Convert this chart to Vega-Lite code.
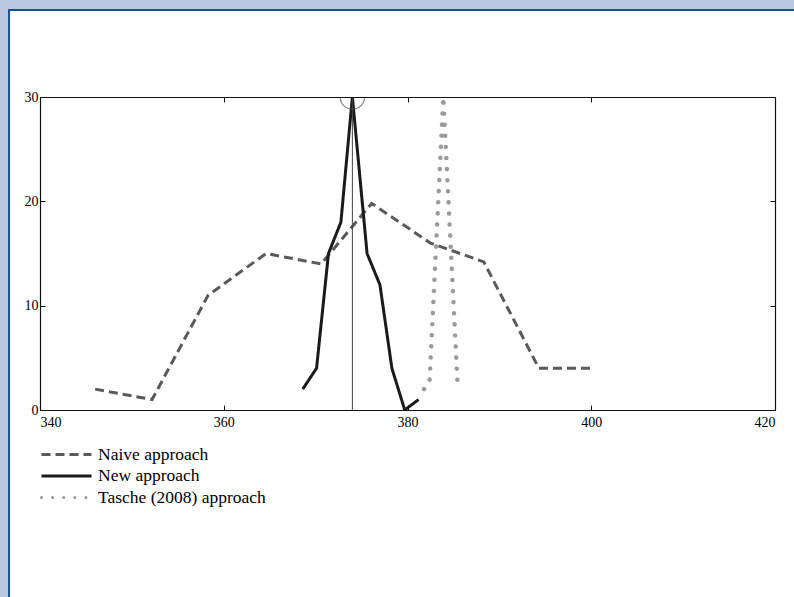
{
  "$schema": "https://vega.github.io/schema/vega-lite/v6.json",
  "width": 735,
  "height": 313,
  "autosize": {"type": "none"},
  "padding": {"left": 40, "top": 97, "right": 19, "bottom": 187},
  "background": "#FFFFFF",
  "config": {
    "view": {"stroke": null},
    "font": "Liberation Serif",
    "axis": {"grid": false, "domain": true, "domainColor": "#111111", "domainWidth": 1.2, "tickColor": "#111111", "tickSize": -5, "labelColor": "#000000", "labelFont": "Liberation Serif", "labelFontSize": 14, "title": null}
  },
  "datasets": {
    "series": [
      {"series": "Naive approach", "x": 346.0, "y": 2.0},
      {"series": "Naive approach", "x": 352.2, "y": 1.0},
      {"series": "Naive approach", "x": 358.3, "y": 11.0},
      {"series": "Naive approach", "x": 364.6, "y": 15.0},
      {"series": "Naive approach", "x": 370.6, "y": 14.0},
      {"series": "Naive approach", "x": 376.1, "y": 19.8},
      {"series": "Naive approach", "x": 382.5, "y": 16.0},
      {"series": "Naive approach", "x": 388.3, "y": 14.2},
      {"series": "Naive approach", "x": 394.3, "y": 4.0},
      {"series": "Naive approach", "x": 400.4, "y": 4.0},
      {"series": "New approach", "x": 368.6, "y": 2.0},
      {"series": "New approach", "x": 370.1, "y": 4.0},
      {"series": "New approach", "x": 371.4, "y": 15.0},
      {"series": "New approach", "x": 372.75, "y": 18.0},
      {"series": "New approach", "x": 374.0, "y": 30.0},
      {"series": "New approach", "x": 375.6, "y": 15.0},
      {"series": "New approach", "x": 377.0, "y": 12.0},
      {"series": "New approach", "x": 378.3, "y": 4.0},
      {"series": "New approach", "x": 379.7, "y": 0.0},
      {"series": "New approach", "x": 381.2, "y": 1.0},
      {"series": "Tasche (2008) approach", "x": 381.8, "y": 2.0},
      {"series": "Tasche (2008) approach", "x": 382.4, "y": 2.8},
      {"series": "Tasche (2008) approach", "x": 383.9, "y": 30.0},
      {"series": "Tasche (2008) approach", "x": 385.45, "y": 2.4}
    ],
    "marker": [{"x": 374, "y": 30}]
  },
  "resolve": {"axis": {"x": "independent", "y": "independent"}},
  "layer": [
    {
      "data": {"name": "marker"},
      "mark": {"type": "rect", "fill": "#B9C8E0", "strokeWidth": 0, "clip": false},
      "encoding": {
        "x": {"datum": 335.0, "type": "quantitative", "scale": {"domain": [340, 420], "nice": false, "zero": false}, "axis": null},
        "x2": {"datum": 432},
        "y": {"datum": 38.34, "type": "quantitative", "scale": {"domain": [0, 30], "nice": false, "zero": false}, "axis": null},
        "y2": {"datum": 41}
      }
    },
    {
      "data": {"name": "marker"},
      "mark": {"type": "rect", "fill": "#B9C8E0", "strokeWidth": 0, "clip": false},
      "encoding": {
        "x": {"datum": 335.0, "type": "quantitative", "scale": {"domain": [340, 420], "nice": false, "zero": false}, "axis": null},
        "x2": {"datum": 336.63},
        "y": {"datum": 41, "type": "quantitative", "scale": {"domain": [0, 30], "nice": false, "zero": false}, "axis": null},
        "y2": {"datum": -25}
      }
    },
    {
      "data": {"name": "marker"},
      "mark": {"type": "rect", "fill": null, "fillOpacity": 0, "stroke": "#1D4F91", "strokeWidth": 2, "clip": false},
      "encoding": {
        "x": {"datum": 336.63, "type": "quantitative", "scale": {"domain": [340, 420], "nice": false, "zero": false}, "axis": null},
        "x2": {"datum": 432},
        "y": {"datum": 38.34, "type": "quantitative", "scale": {"domain": [0, 30], "nice": false, "zero": false}, "axis": null},
        "y2": {"datum": -25}
      }
    },
    {
      "data": {"name": "series"},
      "transform": [{"filter": "datum.series !== 'Tasche (2008) approach'"}],
      "mark": {"type": "line", "strokeWidth": 3, "clip": true},
      "encoding": {
        "x": {"field": "x", "type": "quantitative", "scale": {"domain": [340, 420], "nice": false, "zero": false},
          "axis": {"orient": "bottom", "values": [340, 360, 380, 400, 420], "labelPadding": 10, "zindex": 1}},
        "y": {"field": "y", "type": "quantitative", "scale": {"domain": [0, 30], "nice": false, "zero": false},
          "axis": {"orient": "left", "values": [0, 10, 20, 30], "labelPadding": 7, "zindex": 1}},
        "color": {"field": "series", "type": "nominal",
          "scale": {"domain": ["Naive approach", "New approach", "Tasche (2008) approach"], "range": ["#5a5a5a", "#1a1a1a", "#9b9b9b"]},
          "legend": {"orient": "none", "legendX": 15, "legendY": 346, "title": null, "symbolType": "M-2.5,0H2.5", "symbolSize": 400, "symbolStrokeWidth": 3, "labelFontSize": 17.5, "labelFont": "Liberation Serif", "labelColor": "#000000", "labelOffset": 20, "labelLimit": 400, "rowPadding": 1.5, "padding": 0,
            "encode": {"symbols": {"update": {"strokeCap": {"signal": "datum.value === 'Tasche (2008) approach' ? 'round' : 'butt'"}}}}}},
        "strokeDash": {"field": "series", "type": "nominal",
          "scale": {"domain": ["Naive approach", "New approach", "Tasche (2008) approach"], "range": [[9, 5], [1, 0], [0.1, 11]]},
          "legend": {"orient": "none", "legendX": 15, "legendY": 346, "title": null, "symbolType": "M-2.5,0H2.5", "symbolSize": 400, "symbolStrokeWidth": 3, "labelFontSize": 17.5, "labelFont": "Liberation Serif", "labelColor": "#000000", "labelOffset": 20, "labelLimit": 400, "rowPadding": 1.5, "padding": 0,
            "encode": {"symbols": {"update": {"strokeCap": {"signal": "datum.value === 'Tasche (2008) approach' ? 'round' : 'butt'"}}}}}}
      }
    },
    {
      "data": {"name": "series"},
      "transform": [{"filter": "datum.series === 'Tasche (2008) approach'"}],
      "mark": {"type": "line", "strokeWidth": 4.5, "strokeCap": "round", "clip": true},
      "encoding": {
        "x": {"field": "x", "type": "quantitative", "scale": {"domain": [340, 420], "nice": false, "zero": false},
          "axis": {"orient": "top", "values": [340, 360, 380, 400, 420], "labels": false, "zindex": 1}},
        "y": {"field": "y", "type": "quantitative", "scale": {"domain": [0, 30], "nice": false, "zero": false},
          "axis": {"orient": "right", "values": [0, 10, 20, 30], "labels": false, "zindex": 1}},
        "color": {"field": "series", "type": "nominal",
          "scale": {"domain": ["Naive approach", "New approach", "Tasche (2008) approach"], "range": ["#5a5a5a", "#1a1a1a", "#9b9b9b"]}},
        "strokeDash": {"field": "series", "type": "nominal",
          "scale": {"domain": ["Naive approach", "New approach", "Tasche (2008) approach"], "range": [[9, 5], [1, 0], [0.1, 11]]}}
      }
    },
    {
      "data": {"name": "marker"},
      "mark": {"type": "rule", "color": "#444444", "strokeWidth": 1},
      "encoding": {
        "x": {"field": "x", "type": "quantitative", "scale": {"domain": [340, 420], "nice": false, "zero": false}, "axis": null},
        "y": {"field": "y", "type": "quantitative", "scale": {"domain": [0, 30], "nice": false, "zero": false}, "axis": null},
        "y2": {"datum": 0}
      }
    },
    {
      "data": {"name": "marker"},
      "mark": {"type": "point", "shape": "circle", "size": 600, "filled": false, "stroke": "#555555", "strokeWidth": 1.2, "clip": true},
      "encoding": {
        "x": {"field": "x", "type": "quantitative", "scale": {"domain": [340, 420], "nice": false, "zero": false}, "axis": null},
        "y": {"field": "y", "type": "quantitative", "scale": {"domain": [0, 30], "nice": false, "zero": false}, "axis": null}
      }
    }
  ]
}
